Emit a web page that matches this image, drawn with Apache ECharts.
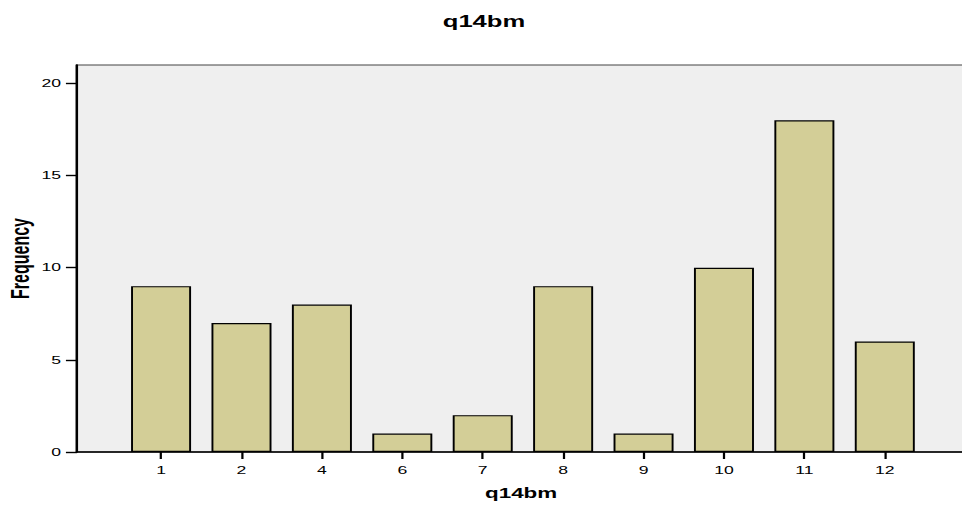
<!DOCTYPE html>
<html>
<head>
<meta charset="utf-8">
<script src="https://cdn.jsdelivr.net/npm/echarts@6/dist/echarts.min.js"></script>
<style>
html,body{margin:0;padding:0;background:#fff;overflow:hidden;width:962px;height:505px}
#wrap{position:absolute;left:0;top:0;width:962px;height:505px;overflow:hidden}
#c{position:absolute;left:0;top:0;width:620px;height:505px;transform:scaleX(1.6);transform-origin:0 0}
</style>
</head>
<body>
<div id="wrap"><div id="c"></div></div>
<script>
const categories = ['1','2','4','6','7','8','9','10','11','12'];
const frequencies = [9, 7, 8, 1, 2, 9, 1, 10, 18, 6];
const yTicks = [0, 5, 10, 15, 20];

const chart = echarts.init(document.getElementById('c'), null, {renderer: 'svg'});
const idx = categories.map((_, i) => i);
chart.setOption({
  animation: false,
  backgroundColor: '#ffffff',
  title: {
    text: 'q14bm', left: 297.5, top: 9, textAlign: 'center',
    textStyle: {fontFamily: 'Liberation Sans', fontSize: 16, fontWeight: 'bold', color: '#000'}
  },
  grid: {
    left: 48.1, top: 65, right: 16.75, bottom: 53,
    outerBoundsMode: 'none', containLabel: false,
    show: true, backgroundColor: '#efefef', borderColor: '#444', borderWidth: 1
  },
  xAxis: {
    type: 'value', min: -1.046, max: 10.0,
    name: 'q14bm', nameLocation: 'middle', nameGap: 34, nameMoveOverlap: false,
    nameTextStyle: {fontFamily: 'Liberation Sans', fontSize: 14, fontWeight: 'bold', color: '#000'},
    splitLine: {show: false},
    axisLine: {show: true, onZero: false, lineStyle: {color: '#000', width: 1.6}},
    axisTick: {show: true, length: 7, customValues: idx, lineStyle: {color: '#000', width: 1.4}},
    axisLabel: {customValues: idx, formatter: v => categories[Math.round(v)] ?? '', color: '#000', fontFamily: 'Liberation Sans', fontSize: 11, margin: 13}
  },
  yAxis: {
    type: 'value', min: 0, max: 21, interval: 5,
    name: 'Frequency', nameLocation: 'middle', nameGap: 27, nameRotate: 90, nameMoveOverlap: false,
    nameTextStyle: {fontFamily: 'Liberation Sans', fontSize: 16, fontWeight: 'bold', color: '#000'},
    splitLine: {show: false},
    axisLine: {show: true, onZero: false, lineStyle: {color: '#000', width: 1.6}},
    axisTick: {show: true, length: 6.9, customValues: yTicks, lineStyle: {color: '#000', width: 1.4}},
    axisLabel: {customValues: yTicks, color: '#000', fontFamily: 'Liberation Sans', fontSize: 11, margin: 10}
  },
  series: [{
    type: 'bar',
    barWidth: 37.5,
    data: frequencies.map((v, i) => [i, v]),
    itemStyle: {color: '#d3ce97', borderColor: '#000', borderWidth: 1.2}
  }]
});
</script>
</body>
</html>
